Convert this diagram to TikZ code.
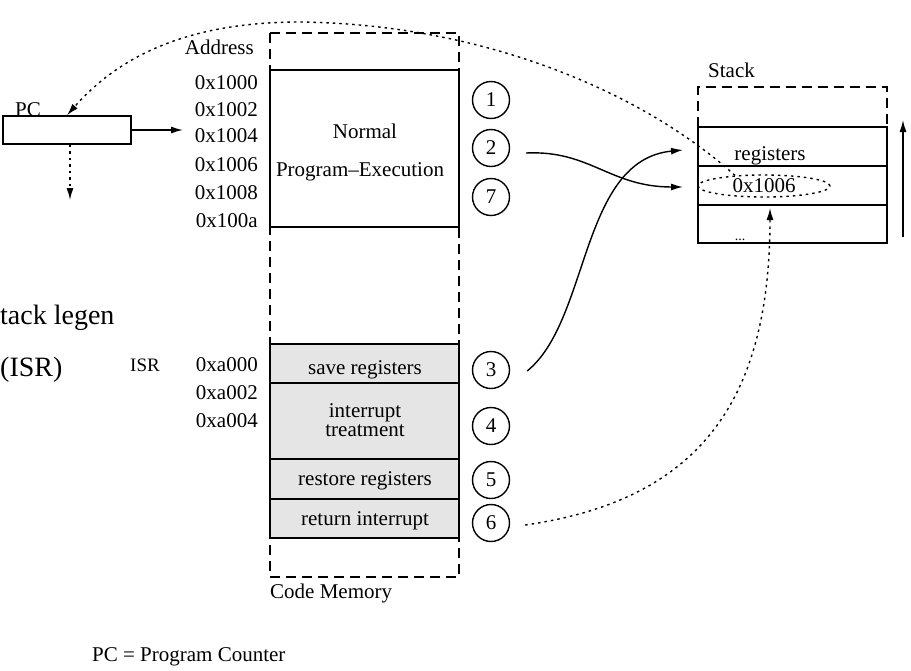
\documentclass[tikz,border=0pt]{standalone}
\usepackage{fontspec}
\setmainfont{Liberation Serif}
\usetikzlibrary{arrows.meta,shapes.geometric}
\begin{document}
\begin{tikzpicture}[x=1pt,y=-1pt,
 lbl/.style={font=\fontsize{21}{24}\selectfont, inner sep=0pt},
 biglbl/.style={font=\fontsize{28}{32}\selectfont, inner sep=0pt},
 num/.style={circle, draw, line width=1.4pt, minimum size=37pt, inner sep=0pt, font=\fontsize{21}{24}\selectfont},
 solidl/.style={line width=1.4pt},
 dashl/.style={line width=1.4pt, dash pattern=on 10pt off 6pt},
 dotl/.style={line width=1.4pt, dash pattern=on 2.5pt off 4pt},
 tip/.style={-{Latex[length=12pt,width=7pt]}},
]
\useasboundingbox (0,0) rectangle (911,670);
% code memory
\draw[dashl] (270,33) rectangle (459,577);
\draw[solidl,fill=white] (270,70) rectangle (459,227);
\filldraw[solidl, fill=gray!20] (270,344) rectangle (459,538);
\draw[solidl] (270,383) -- (459,383);
\draw[solidl] (270,459) -- (459,459);
\draw[solidl] (270,499) -- (459,499);
\node[lbl,anchor=base] (tnormal) at (365,138) {Normal};
\node[lbl,anchor=base] (tprog) at (360,176) {Program--Execution};
\node[lbl,anchor=base] (tsave) at (365,374) {save registers};
\node[lbl,anchor=base] (tint) at (365,417) {interrupt};
\node[lbl,anchor=base] (ttreat) at (365,436) {treatment};
\node[lbl,anchor=base] (trest) at (365,485) {restore registers};
\node[lbl,anchor=base] (tret) at (365,525) {return interrupt};
\node[lbl,anchor=base west] (tcode) at (270,598) {Code Memory};
% addresses
\node[lbl,anchor=base east] (taddr) at (254,54) {Address};
\node[lbl,anchor=base east] (a1) at (258,89) {0x1000};
\node[lbl,anchor=base east] (a2) at (258,116) {0x1002};
\node[lbl,anchor=base east] (a3) at (258,142) {0x1004};
\node[lbl,anchor=base east] (a4) at (258,171) {0x1006};
\node[lbl,anchor=base east] (a5) at (258,199) {0x1008};
\node[lbl,anchor=base east] (a6) at (258,227) {0x100a};
\node[lbl,anchor=base east] (b1) at (258,371) {0xa000};
\node[lbl,anchor=base east] (b2) at (258,399) {0xa002};
\node[lbl,anchor=base east] (b3) at (258,427) {0xa004};
\node[inner sep=0pt,anchor=base,font=\fontsize{19}{22}\selectfont] (tisr) at (145,371) {ISR};
% cut texts
\node[biglbl,anchor=base west] (tleg) at (0,324) {tack legen};
\node[biglbl,anchor=base west] (tisr2) at (0,376) {(ISR)};
% circles
\node[num] (c1) at (491,100) {1};
\node[num] (c2) at (491,148) {2};
\node[num] (c7) at (491,197) {7};
\node[num] (c3) at (491,370) {3};
\node[num] (c4) at (491,426) {4};
\node[num] (c5) at (491,480) {5};
\node[num] (c6) at (491,523) {6};
% PC
\node[draw,solidl,minimum width=128pt,minimum height=28pt,inner sep=0pt] (pc) at (67,130) {};
\node[lbl,anchor=base west] (tpc) at (15,116) {PC};
\coordinate (pcarr) at (183,130);
\coordinate (pcout) at (70,200);
\draw[solidl,tip] (pc.east) -- (pcarr);
\draw[dotl,tip] (pcout |- pc.south) -- (pcout);
\node[lbl,anchor=base west] (tlegend) at (92,661) {PC = Program Counter};
% stack
\draw[dashl] (698,127) -- (698,87) -- (887,87) -- (887,127);
\draw[solidl] (698,127) rectangle (887,243);
\draw[solidl] (698,166) -- (887,166);
\draw[solidl] (698,205) -- (887,205);
\node[lbl,anchor=base west] (tstack) at (708,77) {Stack};
\node[lbl,anchor=base] (treg) at (770,160) {registers};
\node[ellipse,draw,dotl,minimum width=132pt,minimum height=22pt,inner sep=0pt,font=\fontsize{21}{22}\selectfont] (ell) at (764,186) {0x1006};
\node[inner sep=0pt,anchor=base,font=\fontsize{14}{16}\selectfont] (tdots) at (740,240) {...};
\coordinate (sb) at (903,237);
\coordinate (st) at (903,120);
\draw[solidl,tip] (sb) -- (st);
% connectors
\coordinate (s2) at (683,187);
\coordinate (s3) at (683,150);
\coordinate (s6) at (770,208);
\coordinate (ctop) at (300,22);
\draw[solidl,tip] ([shift={(16,5)}]c2.east) .. controls (590,150) and (610,187) .. (s2);
\draw[solidl,tip] ([shift={(17,1)}]c3.east) .. controls (590,320) and (580,160) .. (s3);
\draw[dotl,tip] ([shift={(15,2)}]c6.east) .. controls (700,500) and (770,400) .. (s6);
\draw[dotl,tip] (ell.160) .. controls (640,90) and (480,24) .. (ctop) .. controls (190,22) and (120,55) .. (pc.north);
\end{tikzpicture}
\end{document}
